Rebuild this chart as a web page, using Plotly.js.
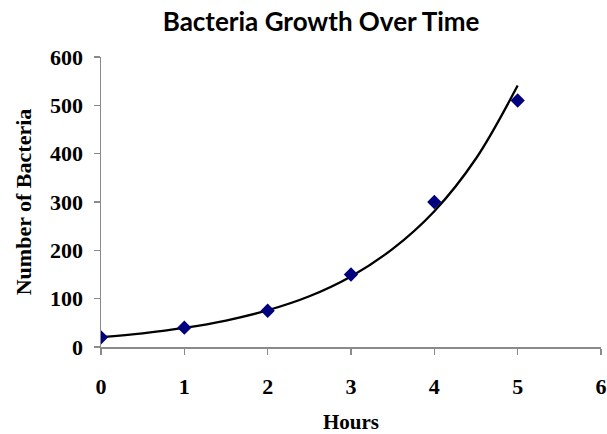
<!DOCTYPE html>
<html>
<head>
<meta charset="utf-8">
<script src="https://cdn.plot.ly/plotly-3.0.1.min.js"></script>
<style>html,body{margin:0;padding:0;background:#fff;}#chart{width:607px;height:434px;}</style>
</head>
<body>
<div id="chart"></div>
<script>
// Observed data
const hours = [0, 1, 2, 3, 4, 5];
const bacteria = [20, 40, 75, 150, 300, 510];

// Trendline values
const trendHours = [0, 0.5, 1, 1.5, 2, 2.5, 3, 3.5, 4, 4.5, 5];
const trendValues = [20.5, 28.4, 39.5, 54.8, 76, 105, 146, 203, 281, 390, 541];

const xTicks = [0, 1, 2, 3, 4, 5, 6];
const yTicks = [0, 100, 200, 300, 400, 500, 600];

const serif = "Liberation Serif, Times New Roman, serif";

const traces = [
  {
    x: trendHours, y: trendValues, type: 'scatter', mode: 'lines',
    line: {color: '#000000', width: 2.3, shape: 'spline'},
    hoverinfo: 'skip', showlegend: false
  },
  {
    x: hours, y: bacteria, type: 'scatter', mode: 'markers',
    marker: {symbol: 'diamond', size: 11, color: '#00007f'},
    showlegend: false
  }
];

const layout = {
  width: 607, height: 434,
  margin: {l: 101, r: 6, t: 57, b: 87},
  paper_bgcolor: '#ffffff', plot_bgcolor: '#ffffff',
  title: {
    text: 'Bacteria Growth Over Time',
    font: {family: 'Lato, Open Sans, sans-serif', size: 26, color: '#000000', weight: 'bold'},
    x: 0.529, xanchor: 'center', y: 0.95, yanchor: 'middle'
  },
  xaxis: {
    range: [0, 6], tickvals: xTicks, ticktext: xTicks.map(String),
    showgrid: false, zeroline: false, showline: true, linecolor: '#8a8a8a', linewidth: 1.5,
    ticks: 'outside', ticklen: 6, tickcolor: '#8a8a8a', tickwidth: 1.5,
    ticklabelstandoff: 13,
    tickfont: {family: serif, size: 22, color: '#000000', weight: 'bold'},
    title: {text: 'Hours', font: {family: serif, size: 21, color: '#000000', weight: 'bold'}, standoff: 16}
  },
  yaxis: {
    range: [0, 600], tickvals: yTicks, ticktext: yTicks.map(String),
    showgrid: false, zeroline: false, showline: true, linecolor: '#8a8a8a', linewidth: 1.5,
    ticks: 'outside', ticklen: 6, tickcolor: '#8a8a8a', tickwidth: 1.5,
    ticklabelstandoff: 6,
    tickfont: {family: serif, size: 22, color: '#000000', weight: 'bold'},
    title: {text: 'Number of Bacteria', font: {family: serif, size: 22, color: '#000000', weight: 'bold'}, standoff: 12}
  }
};

Plotly.newPlot('chart', traces, layout, {displayModeBar: false, staticPlot: true});
</script>
</body>
</html>
